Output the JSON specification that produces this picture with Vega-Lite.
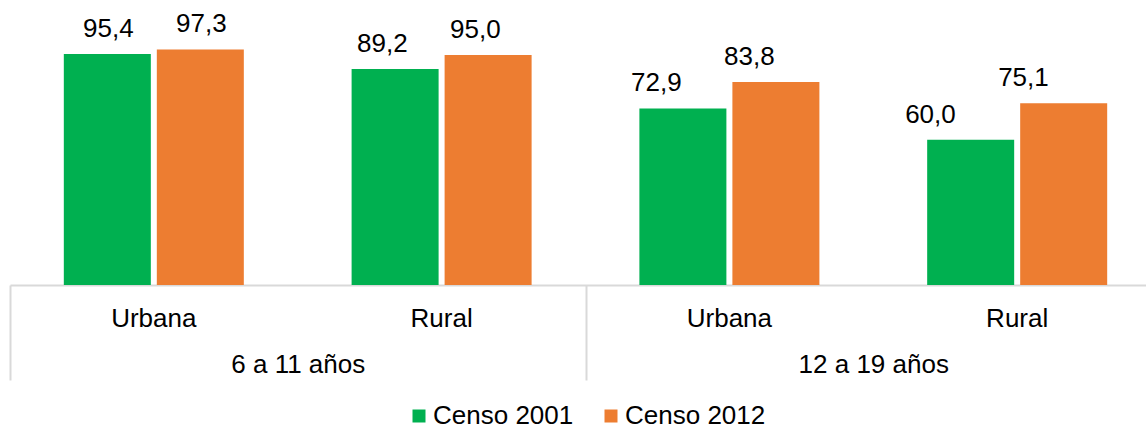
{
  "$schema": "https://vega.github.io/schema/vega-lite/v6.json",
  "width": 1151,
  "height": 285,
  "autosize": {"type": "none"},
  "padding": {"left": 10, "top": 0, "right": 0, "bottom": 142},
  "config": {
    "locale": {"number": {"decimal": ",", "thousands": ".", "grouping": [3], "currency": ["", ""]}},
    "view": {"stroke": null},
    "font": "Liberation Sans",
    "text": {"font": "Liberation Sans"}
  },
  "data": {
    "values": [
      {"grupo": "6 a 11 años", "area": "Urbana", "censo": "Censo 2001", "valor": 95.4},
      {"grupo": "6 a 11 años", "area": "Urbana", "censo": "Censo 2012", "valor": 97.3},
      {"grupo": "6 a 11 años", "area": "Rural", "censo": "Censo 2001", "valor": 89.2},
      {"grupo": "6 a 11 años", "area": "Rural", "censo": "Censo 2012", "valor": 95.0},
      {"grupo": "12 a 19 años", "area": "Urbana", "censo": "Censo 2001", "valor": 72.9},
      {"grupo": "12 a 19 años", "area": "Urbana", "censo": "Censo 2012", "valor": 83.8},
      {"grupo": "12 a 19 años", "area": "Rural", "censo": "Censo 2001", "valor": 60.0},
      {"grupo": "12 a 19 años", "area": "Rural", "censo": "Censo 2012", "valor": 75.1}
    ]
  },
  "transform": [{"calculate": "datum.grupo + '|' + datum.area", "as": "cat"}],
  "layer": [
    {
      "mark": {"type": "bar"},
      "encoding": {
        "x": {
          "field": "cat", "type": "nominal", "sort": null,
          "scale": {"paddingInner": 0.3745, "paddingOuter": 0.187},
          "axis": {
            "orient": "bottom",
            "title": null, "ticks": false, "labelPadding": 20, "labelAngle": 0,
            "labelExpr": "split(datum.label, '|')[1]",
            "labelFont": "Liberation Sans", "labelFontSize": 26, "labelColor": "#000000",
            "domainColor": "#d9d9d9", "domainWidth": 2, "grid": false
          }
        },
        "xOffset": {"field": "censo", "type": "nominal", "scale": {"paddingInner": 0.0645, "paddingOuter": 0}},
        "y": {"field": "valor", "type": "quantitative", "scale": {"domain": [0, 117.7], "nice": false}, "axis": null},
        "color": {
          "field": "censo", "type": "nominal",
          "scale": {"domain": ["Censo 2001", "Censo 2012"], "range": ["#00B050", "#ED7D31"]},
          "legend": {
            "orient": "none", "legendX": 396, "legendY": 403, "direction": "horizontal",
            "title": null, "symbolType": "square", "symbolSize": 169, "symbolStrokeWidth": 0,
            "labelFont": "Liberation Sans", "labelFontSize": 26, "labelColor": "#000000",
            "labelOffset": 1, "columnPadding": 24, "padding": 0
          }
        }
      }
    },
    {
      "mark": {"type": "text", "baseline": "alphabetic", "dy": -17, "fontSize": 26, "font": "Liberation Sans", "color": "#000000"},
      "encoding": {
        "x": {"field": "cat", "type": "nominal", "sort": null, "axis": null},
        "xOffset": {"field": "censo", "type": "nominal"},
        "y": {"field": "valor", "type": "quantitative"},
        "text": {"field": "valor", "type": "quantitative", "format": ".1f"}
      }
    },
    {
      "mark": {"type": "point", "opacity": 0},
      "encoding": {
        "x": {
          "field": "grupo", "type": "nominal", "sort": null,
          "scale": {"paddingInner": 0, "paddingOuter": 0},
          "axis": {
            "orient": "bottom",
            "title": null, "domain": false, "tickBand": "extent", "tickSize": 95,
            "tickColor": "#d9d9d9", "tickWidth": 2, "labelPadding": -29, "labelAngle": 0,
            "labelFont": "Liberation Sans", "labelFontSize": 26, "labelColor": "#000000", "grid": false
          }
        },
        "y": {"field": "valor", "type": "quantitative"}
      }
    }
  ],
  "resolve": {"scale": {"x": "independent"}, "axis": {"x": "independent"}}
}
